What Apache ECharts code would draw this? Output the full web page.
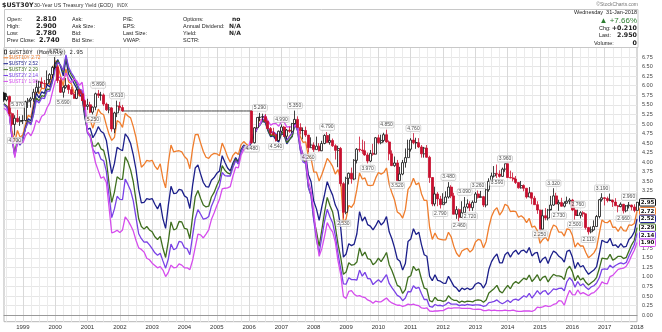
<!DOCTYPE html>
<html><head><meta charset="utf-8">
<script src="https://cdn.jsdelivr.net/npm/echarts@6/dist/echarts.min.js"></script>
<style>html,body{margin:0;padding:0;background:#fff}#c{width:662px;height:332px}</style>
</head><body><div id="c"></div>
<script>
// ---------- DATA ----------
// monthly categories Jun 1998 .. Jan 2018
const firstMonth = [1998, 6], lastMonth = [2018, 1];
const yTicks = [0,0.25,0.5,0.75,1,1.25,1.5,1.75,2,2.25,2.5,2.75,3,3.25,3.5,3.75,4,4.25,4.5,4.75,5,5.25,5.5,5.75,6,6.25,6.5,6.75];

// $UST30Y monthly [open, high, low, close]; null = not issued (2002-03 .. 2006-01)
const ust30 = [
 [5.81,5.84,5.58,5.63],[5.63,5.80,5.59,5.72],[5.72,5.74,5.20,5.27],[5.27,5.30,4.95,4.99],[4.99,5.23,4.70,5.15],[5.15,5.37,5.04,5.06],[5.06,5.20,4.95,5.09],
 [5.09,5.23,5.00,5.09],[5.09,5.61,5.07,5.58],[5.58,5.68,5.42,5.62],[5.62,5.71,5.43,5.66],[5.66,5.92,5.58,5.83],[5.83,6.14,5.80,5.96],[5.96,6.13,5.82,6.10],[6.10,6.22,5.94,6.06],[6.06,6.15,5.95,6.05],[6.05,6.40,6.02,6.16],[6.16,6.33,6.08,6.29],[6.29,6.52,6.20,6.48],
 [6.48,6.75,6.43,6.49],[6.49,6.53,6.07,6.14],[6.14,6.20,5.81,5.83],[5.83,6.00,5.69,5.96],[5.96,6.20,5.92,6.01],[6.01,6.05,5.79,5.90],[5.90,5.97,5.76,5.78],[5.78,5.82,5.70,5.67],[5.67,5.93,5.65,5.89],[5.89,5.92,5.72,5.79],[5.79,5.87,5.70,5.61],[5.61,5.64,5.36,5.46],
 [5.46,5.66,5.37,5.50],[5.50,5.58,5.28,5.31],[5.31,5.46,5.25,5.44],[5.44,5.82,5.36,5.79],[5.79,5.89,5.68,5.75],[5.75,5.84,5.61,5.76],[5.76,5.80,5.47,5.52],[5.52,5.56,5.34,5.37],[5.37,5.52,5.28,5.42],[5.42,5.44,4.80,4.87],[4.87,5.32,4.76,5.29],[5.29,5.61,5.18,5.47],
 [5.47,5.58,5.35,5.43],[5.43,5.50,5.32,5.34],null,null,null,null,null,null,null,null,null,null,
 null,null,null,null,null,null,null,null,null,null,null,null,
 null,null,null,null,null,null,null,null,null,null,null,null,
 null,null,null,null,null,null,null,null,null,null,null,null,
 null,[5.34,5.34,4.48,4.51],[4.51,4.92,4.49,4.90],[4.90,5.17,4.88,5.17],[5.17,5.29,5.08,5.18],[5.18,5.27,5.09,5.19],[5.19,5.26,5.04,5.07],[5.07,5.09,4.86,4.88],[4.88,4.92,4.72,4.77],[4.77,4.90,4.69,4.72],[4.72,4.74,4.54,4.57],[4.57,4.83,4.55,4.81],
 [4.81,4.99,4.78,4.92],[4.92,4.95,4.66,4.68],[4.68,4.87,4.60,4.84],[4.84,4.93,4.77,4.81],[4.81,5.03,4.76,5.01],[5.01,5.35,4.99,5.12],[5.12,5.20,4.90,4.91],[4.91,5.02,4.73,4.83],[4.83,4.91,4.60,4.83],[4.83,4.93,4.66,4.71],[4.71,4.71,4.26,4.38],[4.38,4.65,4.37,4.45],
 [4.45,4.52,4.27,4.33],[4.33,4.67,4.33,4.42],[4.42,4.50,4.28,4.30],[4.30,4.56,4.29,4.49],[4.49,4.73,4.47,4.70],[4.70,4.79,4.50,4.52],[4.52,4.74,4.46,4.57],[4.57,4.62,4.40,4.43],[4.43,4.47,4.07,4.31],[4.31,4.43,3.87,4.36],[4.36,4.40,3.37,3.44],[3.44,3.48,2.53,2.69],
 [2.69,3.62,2.64,3.58],[3.58,3.73,3.42,3.71],[3.71,3.86,3.44,3.56],[3.56,4.08,3.53,4.05],[4.05,4.37,3.97,4.34],[4.34,4.67,4.27,4.32],[4.32,4.59,4.22,4.30],[4.30,4.55,4.17,4.19],[4.19,4.25,3.97,4.03],[4.03,4.32,4.00,4.23],[4.23,4.48,4.17,4.21],[4.21,4.66,4.21,4.64],
 [4.64,4.72,4.47,4.51],[4.51,4.72,4.47,4.57],[4.57,4.77,4.52,4.72],[4.72,4.85,4.51,4.53],[4.53,4.57,4.05,4.22],[4.22,4.31,3.90,3.91],[3.91,4.15,3.88,3.98],[3.98,4.06,3.52,3.52],[3.52,3.88,3.52,3.69],[3.69,4.06,3.66,3.99],[3.99,4.36,3.86,4.12],[4.12,4.59,4.12,4.34],
 [4.34,4.63,4.28,4.58],[4.58,4.76,4.47,4.51],[4.51,4.64,4.35,4.51],[4.51,4.63,4.37,4.40],[4.40,4.45,4.12,4.22],[4.22,4.40,4.12,4.37],[4.37,4.45,4.12,4.13],[4.13,4.17,3.46,3.60],[3.60,3.61,2.85,2.91],[2.91,3.36,2.85,3.17],[3.17,3.22,2.85,3.04],[3.04,3.12,2.79,2.89],
 [2.89,3.19,2.89,2.94],[2.94,3.24,2.93,3.09],[3.09,3.48,3.05,3.35],[3.35,3.40,3.06,3.12],[3.12,3.20,2.64,2.64],[2.64,2.85,2.52,2.76],[2.76,2.79,2.46,2.56],[2.56,2.98,2.55,2.68],[2.68,3.09,2.68,2.83],[2.83,3.03,2.79,2.91],[2.91,2.98,2.72,2.81],[2.81,3.00,2.73,2.95],
 [2.95,3.22,2.95,3.17],[3.17,3.26,3.05,3.08],[3.08,3.25,3.08,3.10],[3.10,3.12,2.83,2.88],[2.88,3.31,2.82,3.28],[3.28,3.58,3.23,3.50],[3.50,3.73,3.47,3.64],[3.64,3.90,3.60,3.70],[3.70,3.94,3.59,3.69],[3.69,3.79,3.60,3.63],[3.63,3.86,3.62,3.82],[3.82,3.96,3.75,3.96],
 [3.96,3.96,3.59,3.60],[3.60,3.78,3.58,3.59],[3.59,3.73,3.50,3.56],[3.56,3.64,3.43,3.47],[3.47,3.47,3.31,3.33],[3.33,3.51,3.31,3.39],[3.39,3.42,3.24,3.32],[3.32,3.32,3.05,3.09],[3.09,3.35,3.09,3.20],[3.20,3.21,2.90,3.06],[3.06,3.12,2.89,2.89],[2.89,2.98,2.65,2.75],
 [2.75,2.76,2.25,2.25],[2.25,2.76,2.25,2.60],[2.60,2.80,2.48,2.54],[2.54,2.78,2.48,2.75],[2.75,3.12,2.78,2.88],[2.88,3.32,2.86,3.12],[3.12,3.20,2.90,2.91],[2.91,3.02,2.73,2.95],[2.95,3.07,2.84,2.85],[2.85,2.98,2.82,2.93],[2.93,3.10,2.92,2.98],[2.98,3.06,2.90,3.01],
 [3.01,3.04,2.72,2.75],[2.75,2.84,2.50,2.61],[2.61,2.76,2.60,2.61],[2.61,2.72,2.53,2.68],[2.68,2.72,2.57,2.65],[2.65,2.66,2.24,2.29],[2.29,2.31,2.11,2.18],[2.18,2.32,2.14,2.23],[2.23,2.48,2.21,2.32],[2.32,2.62,2.32,2.58],[2.58,3.04,2.53,3.02],[3.02,3.19,2.97,3.07],
 [3.07,3.09,2.87,3.05],[3.05,3.10,2.95,3.00],[3.00,3.18,2.98,3.01],[3.01,3.02,2.83,2.96],[2.96,3.06,2.86,2.86],[2.86,2.88,2.69,2.84],[2.84,2.95,2.82,2.90],[2.90,2.91,2.66,2.73],[2.73,2.88,2.69,2.86],[2.86,2.96,2.79,2.88],[2.88,2.89,2.74,2.83],[2.83,2.90,2.69,2.74],
 [2.74,2.96,2.73,2.95]
];
const ust10 = [
 5.50,5.46,5.34,4.81,4.53,4.83,4.65,
 4.72,5.00,5.23,5.18,5.54,5.90,5.79,5.94,5.92,6.11,6.03,6.28,
 6.66,6.52,6.26,5.99,6.44,6.10,6.05,5.83,5.80,5.74,5.72,5.24,
 5.16,5.10,4.89,5.14,5.39,5.28,5.24,4.97,4.73,4.57,4.65,5.09,
 5.04,4.91,5.28,5.21,5.16,4.93,4.65,4.26,3.87,3.94,4.05,4.03,
 4.05,3.90,3.81,3.96,3.57,3.33,3.98,4.45,4.27,4.29,4.30,4.27,
 4.15,4.08,3.83,4.35,4.72,4.73,4.50,4.28,4.13,4.10,4.19,4.23,
 4.22,4.17,4.50,4.34,4.14,4.00,4.18,4.26,4.20,4.46,4.54,4.47,
 4.42,4.57,4.72,4.99,5.11,5.11,5.09,4.88,4.72,4.73,4.60,4.56,
 4.76,4.72,4.56,4.69,4.75,5.10,5.00,4.67,4.52,4.53,4.15,4.10,
 3.74,3.74,3.51,3.68,3.88,4.10,4.01,3.89,3.69,3.81,3.53,2.42,
 2.52,2.87,2.82,2.93,3.29,3.72,3.56,3.59,3.40,3.39,3.40,3.59,
 3.73,3.69,3.73,3.85,3.42,3.20,3.01,2.70,2.65,2.54,2.76,3.29,
 3.39,3.58,3.41,3.46,3.17,3.00,3.00,2.30,1.98,2.15,2.01,1.98,
 1.97,1.97,2.17,2.05,1.80,1.62,1.53,1.68,1.72,1.75,1.65,1.72,
 1.91,1.98,1.96,1.76,1.93,2.30,2.58,2.74,2.81,2.62,2.72,2.90,
 2.86,2.71,2.72,2.71,2.56,2.60,2.54,2.42,2.53,2.30,2.33,2.21,
 1.88,1.98,2.04,1.94,2.20,2.36,2.32,2.17,2.17,2.07,2.26,2.24,
 2.09,1.78,1.89,1.81,1.81,1.64,1.50,1.56,1.63,1.76,2.14,2.49,
 2.43,2.42,2.48,2.30,2.30,2.19,2.32,2.21,2.20,2.36,2.35,2.40,
 2.72
];
const ust5 = [
 5.52,5.46,5.27,4.62,4.18,4.54,4.45,
 4.60,4.91,5.14,5.08,5.44,5.81,5.68,5.84,5.80,6.03,5.97,6.19,
 6.58,6.68,6.50,6.26,6.69,6.30,6.18,6.06,5.93,5.78,5.70,5.17,
 4.86,4.89,4.64,4.76,4.93,4.81,4.76,4.57,4.12,3.70,3.97,4.39,
 4.34,4.30,4.74,4.65,4.49,4.19,3.81,3.29,2.94,2.95,3.05,3.03,
 3.05,2.90,2.78,2.93,2.52,2.27,2.87,3.37,3.18,3.19,3.29,3.27,
 3.12,3.07,2.79,3.39,3.85,3.93,3.69,3.47,3.36,3.35,3.53,3.60,
 3.71,3.77,4.17,4.00,3.85,3.77,3.98,4.12,4.01,4.33,4.45,4.39,
 4.35,4.57,4.72,4.90,5.00,5.07,5.04,4.82,4.67,4.69,4.58,4.53,
 4.75,4.71,4.48,4.59,4.67,5.03,4.88,4.43,4.20,4.20,3.67,3.49,
 2.98,2.78,2.48,2.84,3.15,3.49,3.30,3.14,2.88,2.73,2.29,1.52,
 1.60,1.87,1.82,1.86,2.13,2.71,2.46,2.57,2.37,2.33,2.23,2.34,
 2.48,2.36,2.43,2.58,2.18,2.00,1.76,1.47,1.41,1.18,1.35,1.93,
 1.99,2.26,2.11,2.17,1.84,1.58,1.54,1.02,0.90,1.06,0.91,0.89,
 0.84,0.83,1.02,0.89,0.76,0.71,0.62,0.71,0.67,0.71,0.67,0.70,
 0.81,0.85,0.82,0.71,0.84,1.20,1.40,1.52,1.60,1.37,1.37,1.58,
 1.65,1.52,1.64,1.70,1.59,1.68,1.70,1.63,1.77,1.55,1.62,1.64,
 1.37,1.47,1.52,1.35,1.54,1.68,1.63,1.54,1.49,1.39,1.67,1.70,
 1.52,1.22,1.38,1.26,1.30,1.17,1.07,1.13,1.18,1.27,1.60,1.96,
 1.92,1.90,2.01,1.82,1.84,1.77,1.87,1.78,1.80,1.98,2.05,2.18,
 2.52
];
const ust3 = [
 5.53,5.47,5.30,4.66,4.24,4.60,4.50,
 4.64,4.90,5.08,5.00,5.30,5.68,5.60,5.74,5.72,5.91,5.90,6.13,
 6.49,6.65,6.53,6.36,6.77,6.43,6.28,6.17,6.02,5.85,5.79,5.26,
 4.77,4.71,4.43,4.42,4.51,4.35,4.31,4.04,3.45,2.95,3.22,3.62,
 3.56,3.55,4.14,4.01,3.80,3.49,3.01,2.52,2.32,2.25,2.32,2.23,
 2.18,2.05,1.98,2.06,1.75,1.51,1.93,2.44,2.23,2.26,2.45,2.44,
 2.27,2.25,2.00,2.57,3.10,3.26,3.05,2.88,2.83,2.85,3.09,3.21,
 3.39,3.54,3.91,3.79,3.72,3.69,3.91,4.08,3.96,4.29,4.43,4.39,
 4.35,4.64,4.74,4.89,4.97,5.09,5.07,4.85,4.69,4.72,4.64,4.58,
 4.79,4.75,4.51,4.60,4.69,5.00,4.82,4.34,4.06,4.01,3.35,3.13,
 2.51,2.19,1.80,2.23,2.69,3.08,2.87,2.70,2.32,1.86,1.51,1.07,
 1.13,1.37,1.31,1.32,1.39,1.76,1.55,1.65,1.48,1.46,1.32,1.38,
 1.49,1.40,1.51,1.64,1.32,1.17,0.98,0.78,0.74,0.57,0.67,0.99,
 1.03,1.28,1.17,1.21,0.94,0.71,0.68,0.38,0.35,0.47,0.39,0.39,
 0.36,0.38,0.51,0.43,0.39,0.39,0.33,0.37,0.34,0.37,0.36,0.35,
 0.39,0.40,0.39,0.34,0.40,0.58,0.64,0.70,0.78,0.63,0.58,0.69,
 0.78,0.69,0.82,0.88,0.83,0.90,0.97,0.93,1.05,0.88,0.96,1.06,
 0.90,0.99,1.02,0.87,0.98,1.07,1.03,1.03,1.01,0.93,1.20,1.28,
 1.14,0.90,1.04,0.92,0.97,0.86,0.79,0.85,0.90,0.99,1.22,1.49,
 1.48,1.47,1.59,1.44,1.48,1.54,1.54,1.48,1.51,1.68,1.84,1.96,
 2.29
];
const ust2 = [
 5.50,5.44,5.25,4.60,4.15,4.55,4.46,
 4.62,4.88,5.05,4.98,5.25,5.62,5.55,5.68,5.66,5.86,5.86,6.10,
 6.44,6.61,6.53,6.40,6.81,6.48,6.34,6.23,6.08,5.91,5.88,5.35,
 4.76,4.66,4.34,4.23,4.26,4.08,4.04,3.76,3.12,2.55,2.78,3.11,
 3.03,3.02,3.56,3.42,3.26,2.99,2.56,2.13,2.00,1.91,1.92,1.84,
 1.74,1.63,1.57,1.62,1.42,1.23,1.47,1.86,1.71,1.75,1.93,1.91,
 1.76,1.74,1.58,2.07,2.53,2.76,2.64,2.51,2.53,2.58,2.85,3.01,
 3.22,3.38,3.73,3.65,3.64,3.64,3.87,4.04,3.95,4.27,4.42,4.40,
 4.40,4.67,4.73,4.89,4.97,5.12,5.12,4.90,4.77,4.80,4.74,4.67,
 4.88,4.85,4.57,4.67,4.77,5.00,4.82,4.31,4.01,3.97,3.34,3.12,
 2.48,1.97,1.62,2.05,2.45,2.77,2.57,2.42,2.08,1.61,1.21,0.82,
 0.81,0.98,0.93,0.93,0.92,1.18,1.02,1.12,0.96,0.95,0.80,0.87,
 0.93,0.86,0.96,1.06,0.83,0.72,0.62,0.52,0.48,0.38,0.45,0.62,
 0.61,0.77,0.70,0.73,0.56,0.41,0.41,0.23,0.21,0.28,0.25,0.26,
 0.24,0.28,0.34,0.29,0.29,0.29,0.25,0.27,0.26,0.28,0.27,0.26,
 0.27,0.27,0.26,0.23,0.25,0.33,0.34,0.36,0.40,0.34,0.30,0.34,
 0.39,0.33,0.40,0.42,0.39,0.45,0.51,0.47,0.57,0.45,0.54,0.64,
 0.55,0.62,0.64,0.54,0.61,0.69,0.67,0.70,0.71,0.64,0.88,0.98,
 0.90,0.73,0.88,0.77,0.82,0.73,0.67,0.74,0.77,0.84,0.98,1.20,
 1.21,1.20,1.31,1.24,1.30,1.34,1.37,1.34,1.38,1.55,1.70,1.84,
 2.14
];
const ust1 = [
 5.41,5.36,5.21,4.71,4.12,4.53,4.52,
 4.51,4.70,4.78,4.69,4.85,5.10,5.03,5.20,5.25,5.43,5.55,5.84,
 6.12,6.22,6.22,6.15,6.33,6.17,6.08,6.18,6.13,6.01,6.09,5.60,
 4.81,4.68,4.30,3.98,3.78,3.58,3.62,3.47,2.82,2.15,2.18,2.22,
 2.16,2.23,2.57,2.48,2.35,2.20,1.96,1.76,1.72,1.65,1.49,1.45,
 1.36,1.30,1.24,1.27,1.18,1.01,1.12,1.31,1.24,1.25,1.34,1.31,
 1.24,1.24,1.19,1.43,1.78,2.12,2.10,2.02,2.12,2.23,2.50,2.67,
 2.86,3.03,3.30,3.32,3.33,3.36,3.64,3.87,3.85,4.18,4.33,4.35,
 4.45,4.68,4.77,4.90,5.00,5.16,5.22,5.08,4.97,5.01,5.01,4.94,
 5.06,5.05,4.92,4.93,4.91,4.96,4.96,4.47,4.14,4.10,3.50,3.26,
 2.71,2.05,1.54,1.74,2.06,2.42,2.28,2.18,1.91,1.42,1.07,0.49,
 0.44,0.62,0.64,0.55,0.50,0.51,0.48,0.46,0.40,0.37,0.31,0.37,
 0.35,0.35,0.40,0.45,0.37,0.32,0.29,0.26,0.26,0.23,0.25,0.29,
 0.27,0.29,0.26,0.25,0.19,0.18,0.19,0.11,0.10,0.11,0.11,0.12,
 0.12,0.16,0.19,0.18,0.19,0.19,0.19,0.18,0.18,0.18,0.18,0.16,
 0.15,0.16,0.15,0.12,0.12,0.14,0.12,0.13,0.12,0.12,0.12,0.13,
 0.12,0.12,0.13,0.11,0.10,0.10,0.11,0.11,0.11,0.10,0.13,0.21,
 0.20,0.22,0.25,0.23,0.24,0.28,0.30,0.38,0.37,0.26,0.48,0.65,
 0.54,0.53,0.66,0.56,0.59,0.55,0.51,0.57,0.59,0.66,0.74,0.87,
 0.83,0.82,1.01,1.04,1.12,1.20,1.22,1.23,1.28,1.40,1.56,1.70,
 1.90
];
// annotated highs/lows of $UST30Y: [month, 'high' | 'low']
const ust30Marks = [
 ['1998-10','low'],['1998-11','high'],['2000-01','high'],['2000-04','low'],['2001-03','low'],['2001-05','high'],['2001-12','high'],
 ['2006-02','low'],['2006-05','high'],['2006-11','low'],['2007-01','high'],['2007-06','high'],['2007-11','low'],['2008-06','high'],
 ['2008-12','low'],['2009-09','low'],['2010-04','high'],['2010-08','low'],['2011-02','high'],['2011-12','low'],['2012-03','high'],
 ['2012-07','low'],['2012-09','high'],['2012-11','low'],['2013-02','high'],['2013-09','low'],['2013-12','high'],['2015-01','low'],
 ['2015-06','high'],['2015-08','low'],['2016-02','low'],['2016-03','high'],['2016-07','low'],['2016-12','high'],['2017-08','low'],['2017-10','high']
];
const seriesNames = ['$UST10Y','$UST5Y','$UST3Y','$UST2Y','$UST1Y'];
const seriesColors = ['#ef7d2d','#1c1f8a','#3f6f1f','#7a42e6','#d54ded'];
const header = {symbol:'$UST30Y', name:'30-Year US Treasury Yield (EOD)', exch:'INDX',
  open:'2.810', high:'2.900', low:'2.780', prev:'2.740', date:'Wednesday  31-Jan-2018', pct:'+7.66%', chg:'+0.210', last:'2.950', volume:'0'};

// ---------- BUILD ----------
const months = [];
for (let y = firstMonth[0], m = firstMonth[1]; y < lastMonth[0] || (y === lastMonth[0] && m <= lastMonth[1]); ) {
  months.push(y + '-' + String(m).padStart(2, '0'));
  m++; if (m > 12) { m = 1; y++; }
}
const lineSets = [ust10, ust5, ust3, ust2, ust1];

let prevC = null;
const candleData = ust30.map((r) => {
  if (!r) return {value: ['-','-','-','-']};
  const [o,h,l,c] = r;
  const col = (prevC == null || c >= prevC) ? '#111' : '#c8102e';
  const fill = c >= o ? '#fff' : col;
  prevC = c;
  return {value:[o,c,l,h], itemStyle:{color:fill,color0:fill,borderColor:col,borderColor0:col}};
});
// carry line across the period with no 30Y bond
let lastClose = null; const gapLine = ust30.map(()=> '-');
ust30.forEach((r,i)=>{
  if (r) { if (lastClose!=null && i>0 && !ust30[i-1]) gapLine[i] = r[0]; lastClose = r[3]; }
  else { gapLine[i] = lastClose; if (i>0 && ust30[i-1]) gapLine[i-1] = ust30[i-1][3]; }
});
const markData = ust30Marks.map(([m,k]) => {
  const r = ust30[months.indexOf(m)];
  const v = k === 'high' ? r[1] : r[2];
  return {value:[m, v], label:{position: k === 'high' ? 'top' : 'bottom'}};
});

const FONT = '"Liberation Sans", Arial, sans-serif';
const chart = echarts.init(document.getElementById('c'), null, {renderer:'canvas'});
const lineSeries = lineSets.map((d,i)=>({
  type:'line', name:seriesNames[i], data:d, showSymbol:false, symbol:'none',
  lineStyle:{width:1.3, color:seriesColors[i]}, z:2, xAxisIndex:0, yAxisIndex:0
}));
chart.setOption({
  animation:false,
  backgroundColor:'#fff',
  grid:{left:4, right:25, top:47.5, bottom:10.3, show:true, borderColor:'#b5b5b5', borderWidth:1},
  xAxis:[{
    type:'category', data:months, boundaryGap:false,
    axisLine:{lineStyle:{color:'#999'}}, axisTick:{show:false},
    axisLabel:{interval:(i,v)=>v.endsWith('-01'), formatter:v=>v.slice(0,4), fontSize:6, color:'#333', margin:3, fontFamily:FONT},
    splitLine:{show:true, interval:(i,v)=>['01','04','07','10'].includes(v.slice(5)), lineStyle:{color:'#ebebeb', width:1}}
  },{
    type:'category', data:months, boundaryGap:false, position:'bottom',
    axisLine:{show:false}, axisTick:{show:false}, axisLabel:{show:false},
    splitLine:{show:true, interval:(i,v)=>v.endsWith('-01'), lineStyle:{color:'#d9d9d9', width:1}}
  }],
  yAxis:{
    type:'value', position:'right', min:-0.17, max:7.0, scale:true,
    axisLine:{show:false}, axisTick:{show:false, customValues:yTicks},
    axisLabel:{customValues:yTicks, formatter:v=>v.toFixed(2), fontSize:5.5, color:'#444', margin:5, fontFamily:FONT},
    splitLine:{show:true, lineStyle:{color:'#e6e6e6', width:1}}
  },
  series:[
    ...lineSeries,
    {type:'line', name:'gap', data:gapLine, showSymbol:false, symbol:'none', lineStyle:{width:1, color:'#444'}, z:3},
    {type:'candlestick', name:'$UST30Y', data:candleData, barWidth:2.5, z:4,
     itemStyle:{borderWidth:0.8}},
    {type:'scatter', name:'marks', data:markData, symbolSize:0, z:6,
     label:{show:true, formatter:p=>p.value[1].toFixed(3), fontSize:5, color:'#222', fontFamily:FONT,
       backgroundColor:'rgba(255,255,255,0.9)', borderColor:'#aaa', borderWidth:0.5, borderRadius:1, padding:[0.5,1], distance:2}}
  ]
});

// ---------- GRAPHICS (header, legend, last-value tags) ----------
const g = [];
const T = (x,y,text,opt={}) => g.push({type:'text', silent:true, z:opt.z||50, style:Object.assign({x, y, text, fill:'#222',
  font:(opt.bold?'bold ':'') + (opt.size||5.5) + 'px ' + (opt.family||FONT), textAlign:opt.align||'left', textVerticalAlign:'middle'}, opt.style||{})});
T(2,5,header.symbol,{bold:true,size:6.3,family:'"DejaVu Sans", sans-serif'});
T(34,5.5,header.name,{size:5.3,style:{fill:'#333'}});
T(117,5.8,header.exch,{size:4.5,style:{fill:'#444'}});
T(638,4.5,'\u00a9StockCharts.com',{size:5,align:'right',style:{fill:'#777'}});
g.push({type:'rect', silent:true, z:40, shape:{x:4.5,y:9.5,width:633.5,height:38}, style:{fill:'#fff', stroke:'#c8c8c8', lineWidth:1}});
const rows = [19.5,26.3,33,40];
[['Open:',header.open],['High:',header.high],['Low:',header.low],['Prev Close:',header.prev]].forEach((r,i)=>{
  T(7,rows[i],r[0]); T(i===3?39:36,rows[i],r[1],{bold:true,size:6.5,family:'"DejaVu Sans", sans-serif'});
});
['Ask:','Ask Size:','Bid:','Bid Size:'].forEach((t,i)=>T(72,rows[i],t));
['P/E:','EPS:','Last Size:','VWAP:'].forEach((t,i)=>T(123,rows[i],t));
['Options:','Annual Dividend:','Yield:','SCTR:'].forEach((t,i)=>T(183,rows[i],t));
[['no',0],['N/A',1],['N/A',2]].forEach(([t,i])=>T(i===0?232:229,rows[i],t,{bold:true,size:6,family:'"DejaVu Sans", sans-serif'}));
T(637,12.5,header.date,{size:5.5,align:'right'});
T(637,20.5,'\u25b2 ' + header.pct,{size:8,align:'right',style:{fill:'#2e7d32'}});
T(599,28,'Chg:'); T(637,28,header.chg,{bold:true,size:6.3,align:'right',family:'"DejaVu Sans", sans-serif'});
T(599,35.5,'Last:'); T(637,35.5,header.last,{bold:true,size:6.3,align:'right',family:'"DejaVu Sans", sans-serif'});
T(594,43,'Volume:'); T(637,43,header.volume,{bold:true,size:6.3,align:'right',family:'"DejaVu Sans", sans-serif'});

// legend inside plot
const lastCandle = ust30[ust30.length-1][3];
g.push({type:'rect', silent:true, z:50, shape:{x:4.5,y:50,width:2,height:4}, style:{fill:'#fff', stroke:'#111', lineWidth:0.7}});
T(9,52.3,'$UST30Y (Monthly) ' + lastCandle.toFixed(2),{size:5.6,family:'"DejaVu Sans Mono", monospace'});
lineSets.forEach((d,i)=>{
  const y = 57.8 + i*5.9;
  g.push({type:'line', silent:true, z:50, shape:{x1:3.5,y1:y,x2:8,y2:y}, style:{stroke:seriesColors[i], lineWidth:1}});
  T(9,y,seriesNames[i] + ' ' + d[d.length-1].toFixed(2),{size:4.8,style:{fill:seriesColors[i]}});
});

// last-value tags on the right axis
const tags = [{v:lastCandle, c:'#111'}].concat(lineSets.map((d,i)=>({v:d[d.length-1], c:seriesColors[i]})));
tags.forEach(t=>{ t.y = chart.convertToPixel({yAxisIndex:0}, t.v); });
tags.sort((a,b)=>a.y-b.y);
for (let i=1;i<tags.length;i++) if (tags[i].y < tags[i-1].y + 7.6) tags[i].y = tags[i-1].y + 7.6;
tags.forEach(t=>{
  g.push({type:'rect', silent:true, z:60, shape:{x:639.5,y:t.y-3.7,width:16,height:7.4,r:1}, style:{fill:'#fff', stroke:t.c, lineWidth:1}});
  T(647.5,t.y+0.2,t.v.toFixed(2),{z:70,bold:true,size:5.5,align:'center',family:'"DejaVu Sans", sans-serif',style:{fill:'#111'}});
});
chart.setOption({graphic:g});
</script>
</body></html>
